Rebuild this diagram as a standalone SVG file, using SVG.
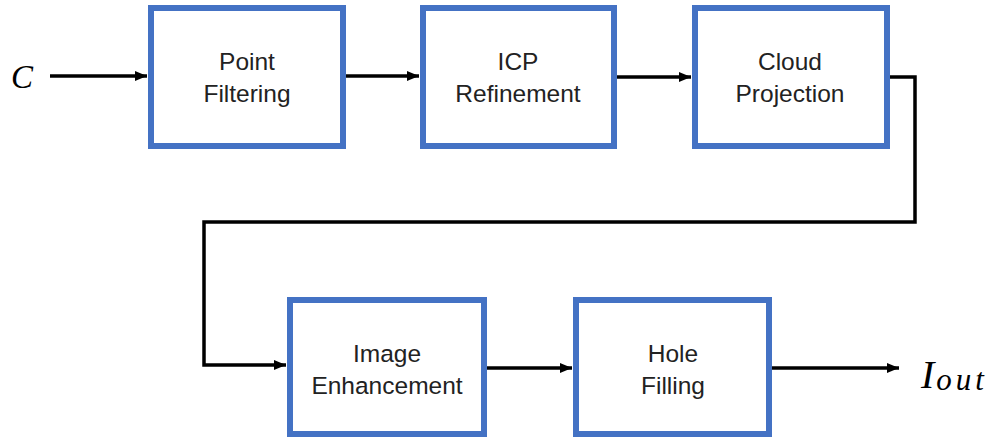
<svg xmlns="http://www.w3.org/2000/svg" width="992" height="439" viewBox="0 0 992 439">
<style>
.box{fill:#fff;stroke:#4472c4;stroke-width:6}
.lbl{font-family:"Liberation Sans",Arial,sans-serif;font-size:24.5px;fill:#222;text-anchor:middle}
.conn{fill:none;stroke:#000;stroke-width:3.5}
.math{font-family:"Liberation Serif","DejaVu Serif",serif;font-style:italic;fill:#000}
</style>
<defs>
<marker id="ah" markerUnits="userSpaceOnUse" markerWidth="14" markerHeight="12" refX="12" refY="6" orient="auto">
<path d="M0,1 L12,6 L0,11 Z" fill="#000"/>
</marker>
</defs>
<rect width="992" height="439" fill="#fff"/>
<g id="connectors">
<path class="conn" d="M50,76 H147" marker-end="url(#ah)"/>
<path class="conn" d="M346,76 H419" marker-end="url(#ah)"/>
<path class="conn" d="M617,77 H691" marker-end="url(#ah)"/>
<path class="conn" d="M889,77 H915 V222 H204 V365 H286" marker-end="url(#ah)"/>
<path class="conn" d="M487,368 H572" marker-end="url(#ah)"/>
<path class="conn" d="M772,368 H899" marker-end="url(#ah)"/>
</g>
<g id="input">
<text class="math" x="11" y="88" font-size="33">C</text>
</g>
<g id="point-filtering">
<rect class="box" x="151" y="8" width="192" height="138"/>
<text class="lbl" x="247" y="70">Point</text>
<text class="lbl" x="247" y="102">Filtering</text>
</g>
<g id="icp-refinement">
<rect class="box" x="423" y="8" width="191" height="138"/>
<text class="lbl" x="518" y="70">ICP</text>
<text class="lbl" x="518" y="102">Refinement</text>
</g>
<g id="cloud-projection">
<rect class="box" x="695" y="8" width="192" height="138"/>
<text class="lbl" x="790" y="70">Cloud</text>
<text class="lbl" x="790" y="102">Projection</text>
</g>
<g id="image-enhancement">
<rect class="box" x="290" y="300" width="194" height="134"/>
<text class="lbl" x="387" y="362">Image</text>
<text class="lbl" x="387" y="394">Enhancement</text>
</g>
<g id="hole-filling">
<rect class="box" x="576" y="300" width="193" height="134"/>
<text class="lbl" x="673" y="362">Hole</text>
<text class="lbl" x="673" y="394">Filling</text>
</g>
<g id="output">
<text class="math" x="921" y="388" font-size="40">I<tspan font-size="31" dx="2" dy="2" letter-spacing="4">out</tspan></text>
</g>
</svg>
